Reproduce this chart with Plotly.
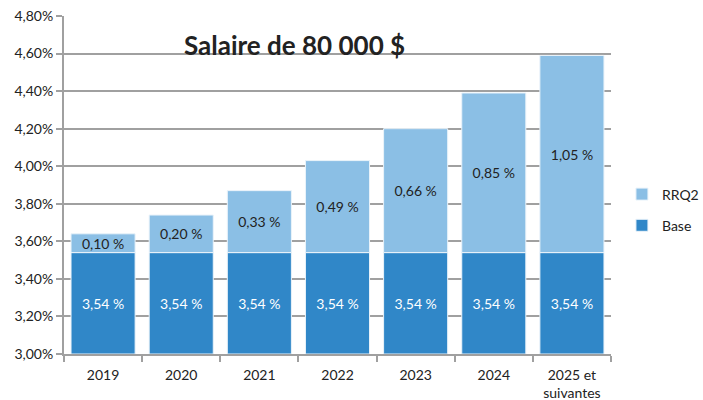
import plotly.graph_objects as go

categories = ["2019", "2020", "2021", "2022", "2023", "2024", "2025 et<br>suivantes"]
base_values = [3.54, 3.54, 3.54, 3.54, 3.54, 3.54, 3.54]
rrq2_values = [0.10, 0.20, 0.33, 0.49, 0.66, 0.85, 1.05]
y_ticks = [3.00, 3.20, 3.40, 3.60, 3.80, 4.00, 4.20, 4.40, 4.60, 4.80]
y_min, y_max = 3.00, 4.80
title_text = "Salaire de 80 000 $"

def fmt(v):
    return f"{v:.2f} %".replace(".", ",")

FONT = "Lato, 'Open Sans', sans-serif"

fig = go.Figure()
# Base bars drawn from the axis floor so their labels sit in the visible part
fig.add_trace(go.Bar(
    x=categories, y=[(v - y_min) / 100 for v in base_values], base=y_min / 100,
    name="Base", legendgroup="base", legendrank=2,
    marker=dict(color="#3087C8", line=dict(color="#EAF3FA", width=1)),
    text=[fmt(v) for v in base_values], textposition="inside",
    insidetextanchor="middle", textfont=dict(color="white", size=14, family=FONT),
    hoverinfo="skip",
))
fig.add_trace(go.Bar(
    x=categories, y=[v / 100 for v in rrq2_values], base=[v / 100 for v in base_values],
    name="RRQ2", legendgroup="rrq2", legendrank=1,
    marker=dict(color="#8BBFE5", line=dict(color="#EAF3FA", width=1)),
    text=[fmt(v) for v in rrq2_values], textposition="inside",
    insidetextanchor="middle", textfont=dict(color="#222222", size=14, family=FONT),
    hoverinfo="skip",
))

fig.update_layout(
    width=703, height=400,
    barmode="overlay", bargap=0.18,
    separators=", ",
    plot_bgcolor="white", paper_bgcolor="white",
    margin=dict(l=64, r=92, t=16, b=46, autoexpand=False),
    font=dict(family=FONT, size=14, color="#222222"),
    uniformtext=dict(mode="show", minsize=14),
    legend=dict(x=1.02, y=0.426, yanchor="middle", xanchor="left",
                traceorder="grouped", font=dict(size=14),
                itemwidth=30, tracegroupgap=10),
    annotations=[dict(text=f"<b>{title_text}</b>", x=0.422, y=0.914,
                      xref="paper", yref="paper", showarrow=False,
                      xanchor="center", yanchor="middle",
                      font=dict(size=26, color="#222222", family=FONT))],
)
fig.update_yaxes(
    range=[y_min / 100, y_max / 100], tickvals=[v / 100 for v in y_ticks], tickformat=".2%",
    showgrid=True, gridcolor="#A0A0A0", gridwidth=2,
    showline=True, linecolor="#A0A0A0", linewidth=2,
    ticks="outside", ticklen=6, tickcolor="#A0A0A0", tickwidth=2,
    zeroline=False,
)
fig.update_xaxes(
    showline=True, linecolor="#A0A0A0", linewidth=2,
    ticks="outside", ticklen=6, tickcolor="#A0A0A0", tickwidth=2,
    tickson="boundaries", ticklabelstandoff=7,
)

fig.write_html("out.html")
